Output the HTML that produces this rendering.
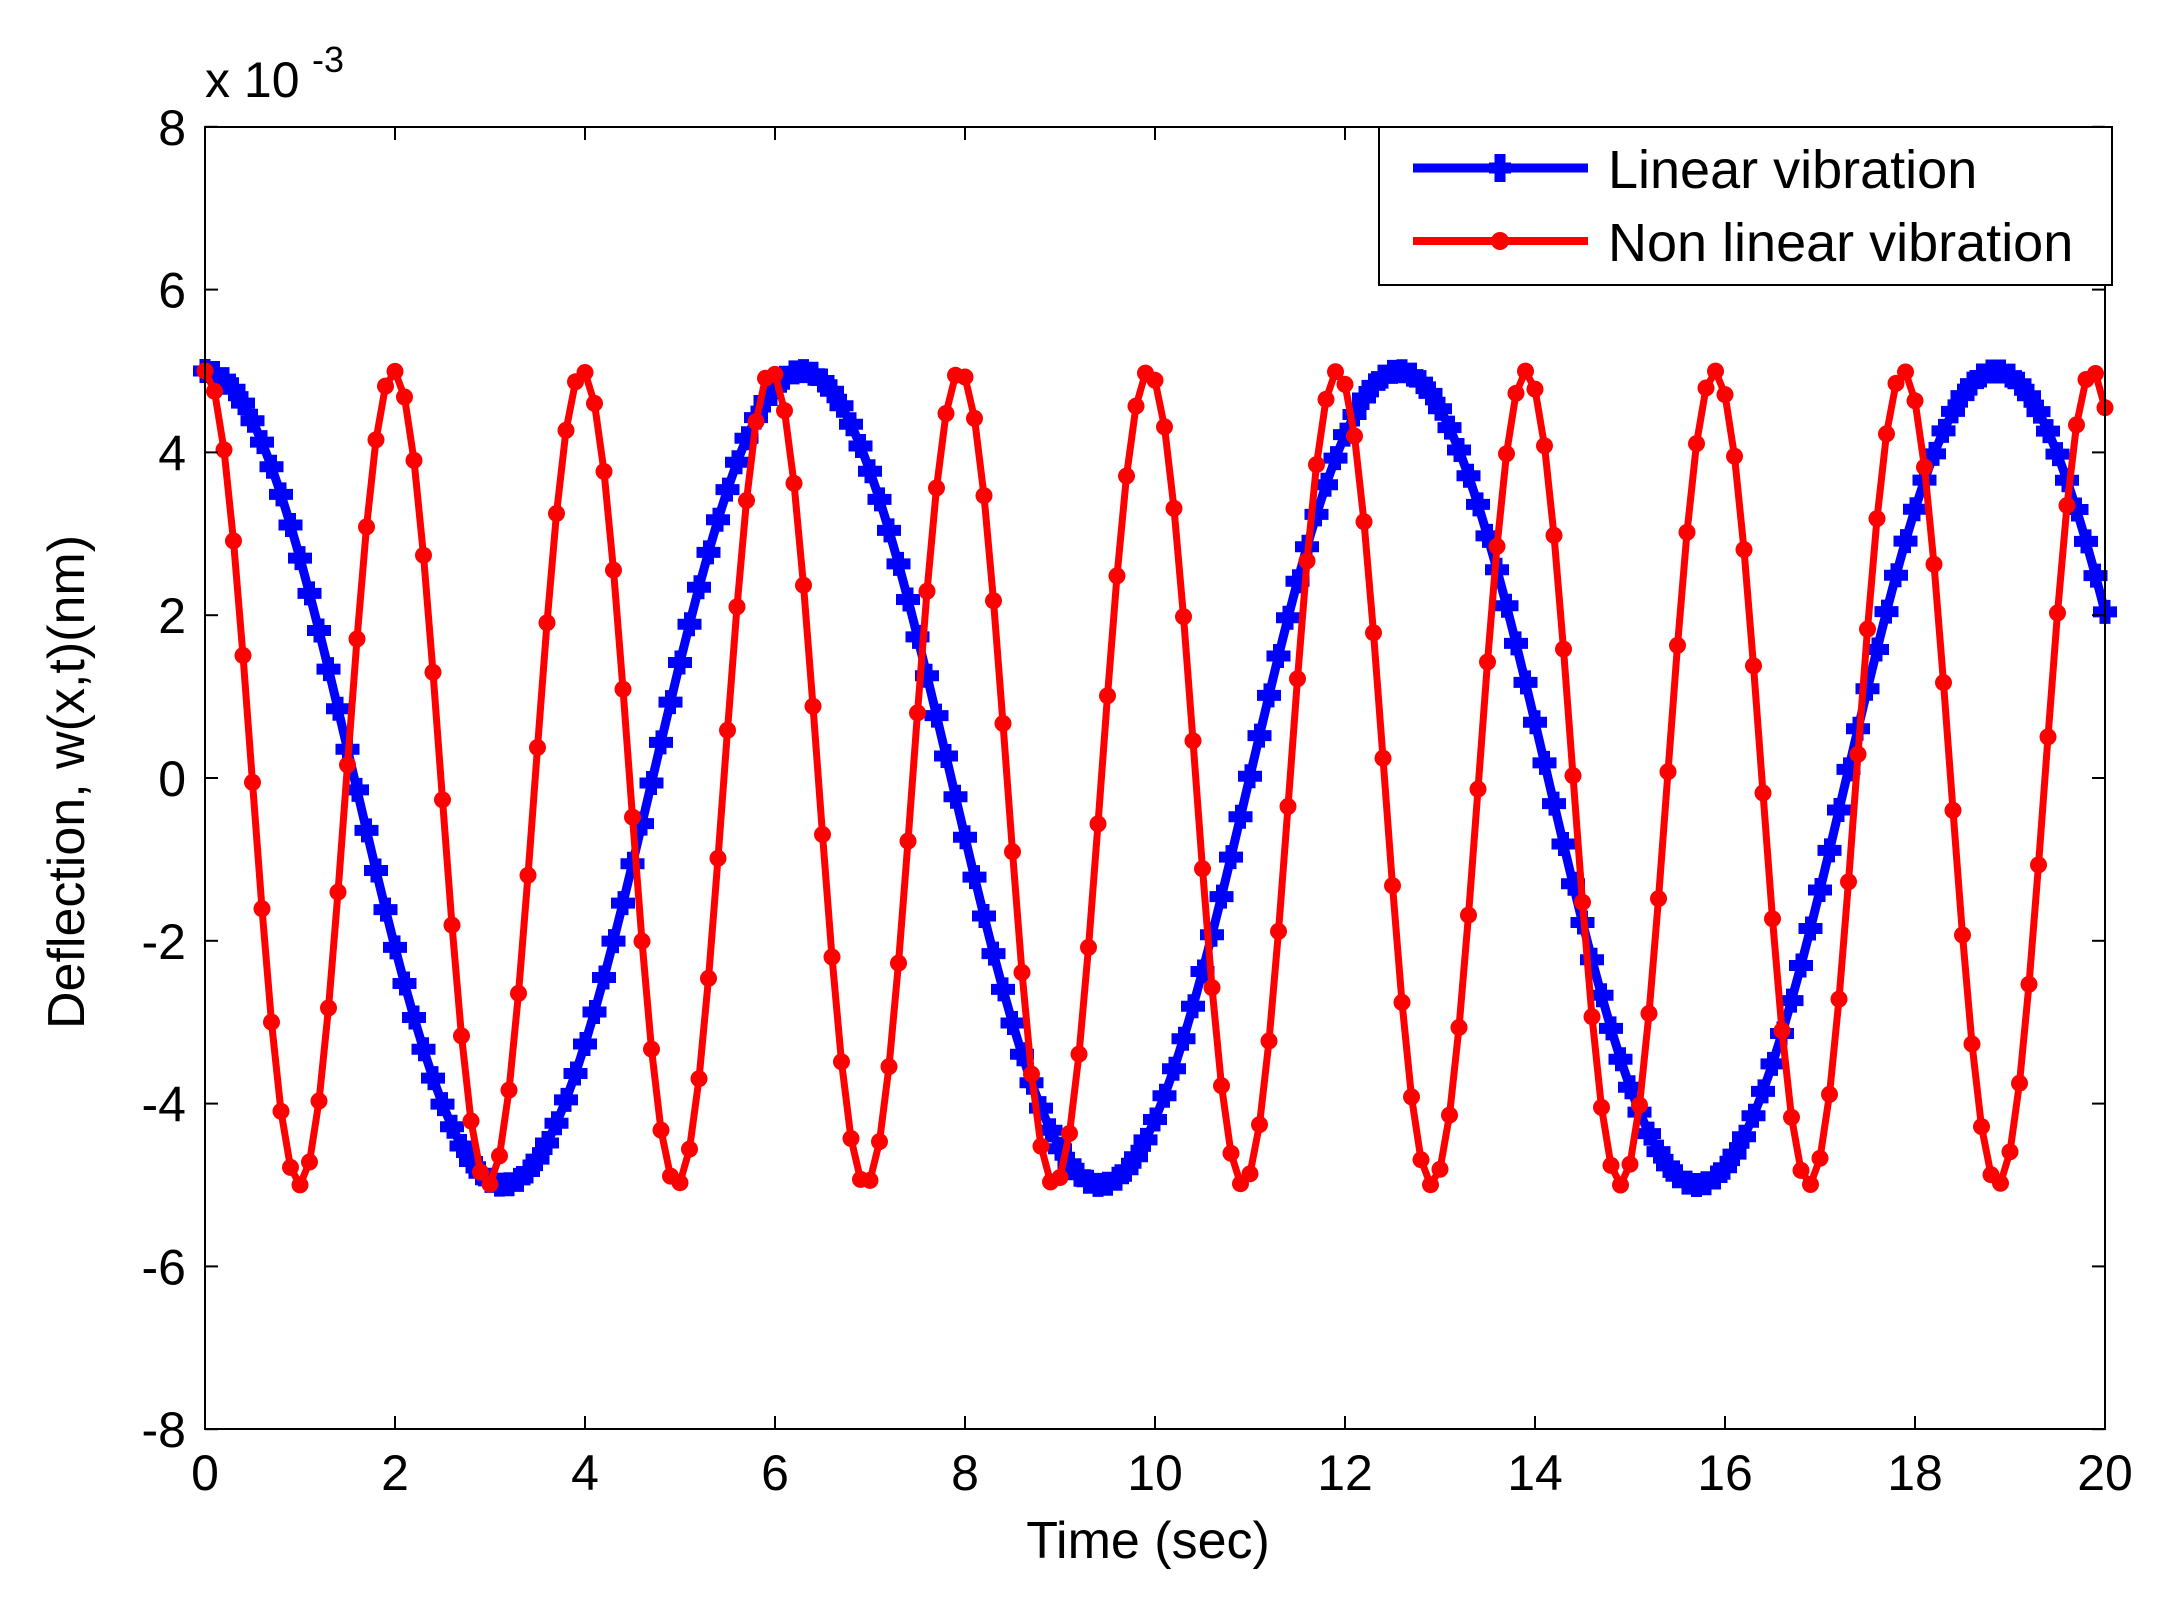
<!DOCTYPE html>
<html><head><meta charset="utf-8"><style>
html,body{margin:0;padding:0;background:#fff;}
svg{display:block;font-family:"Liberation Sans",Arial,sans-serif;}
</style></head><body>
<svg id="s" width="2169" height="1598" viewBox="0 0 2169 1598" xmlns="http://www.w3.org/2000/svg">
<rect width="2169" height="1598" fill="#fff"/>
<g id="plot"></g>
<rect x="205" y="127" width="1900" height="1302" fill="none" stroke="#000" stroke-width="2"/>
<g id="ticks" stroke="#000" stroke-width="2"></g>
<g id="labels" font-size="50" fill="#000"></g>
<text x="205" y="97" font-size="50">x 10</text>
<text x="312" y="72" font-size="36">-3</text>
<text x="1148" y="1558" font-size="52" text-anchor="middle">Time (sec)</text>
<text transform="translate(84,782) rotate(-90)" font-size="52" text-anchor="middle">Deflection, w(x,t)(nm)</text>
<g>
<rect x="1379" y="127" width="733" height="158" fill="#fff" stroke="#000" stroke-width="2"/>
<line x1="1413" y1="168" x2="1588" y2="168" stroke="#0000ff" stroke-width="9"/>
<path d="M1500 154 V182 M1489 168 H1511" stroke="#0000ff" stroke-width="11"/>
<line x1="1413" y1="241" x2="1588" y2="241" stroke="#ff0000" stroke-width="8"/>
<circle cx="1500" cy="241" r="9" fill="#ff0000"/>
<text x="1608" y="188" font-size="54">Linear vibration</text>
<text x="1608" y="261" font-size="54">Non linear vibration</text>
</g>
</svg>
<script>
(function(){
var NS="http://www.w3.org/2000/svg";
function X(t){return 205+t*95;}
function Y(v){return 778-v*81.4;}
var plot=document.getElementById('plot');
function el(n,a,p){var e=document.createElementNS(NS,n);for(var k in a)e.setAttribute(k,a[k]);(p||plot).appendChild(e);return e;}
var pb="",pr="",mb="";
var gr=el('g',{fill:'#ff0000'});
for(var i=0;i<=200;i++){
 var t=i*0.1;
 var vb=5*Math.cos(t), vr=5*Math.cos(3.163*t);
 var xb=X(t).toFixed(1), yb=Y(vb).toFixed(1), yr=Y(vr).toFixed(1);
 pb+=(i?"L":"M")+xb+" "+yb;
 pr+=(i?"L":"M")+xb+" "+yr;
 mb+="M"+(X(t)-12).toFixed(1)+" "+yb+"h24M"+xb+" "+(Y(vb)-12).toFixed(1)+"v24";
 el('circle',{cx:xb,cy:yr,r:8.5},gr);
}
el('path',{d:pb,fill:'none',stroke:'#0000ff','stroke-width':9,'stroke-linejoin':'round'});
el('path',{d:mb,fill:'none',stroke:'#0000ff','stroke-width':11});
el('path',{d:pr,fill:'none',stroke:'#ff0000','stroke-width':7,'stroke-linejoin':'round'});
plot.appendChild(gr);
var tk=document.getElementById('ticks'),lb=document.getElementById('labels');
for(var x=0;x<=20;x+=2){
 var px=X(x);
 el('line',{x1:px,y1:1429,x2:px,y2:1416},tk);
 el('line',{x1:px,y1:127,x2:px,y2:140},tk);
 var t=el('text',{x:px,y:1490,'text-anchor':'middle'},lb);t.textContent=x;
}
for(var v=-8;v<=8;v+=2){
 var py=Y(v);
 el('line',{x1:205,y1:py,x2:218,y2:py},tk);
 el('line',{x1:2105,y1:py,x2:2092,y2:py},tk);
 var t=el('text',{x:186,y:py+18,'text-anchor':'end'},lb);t.textContent=v;
}
})();
</script>
</body></html>
